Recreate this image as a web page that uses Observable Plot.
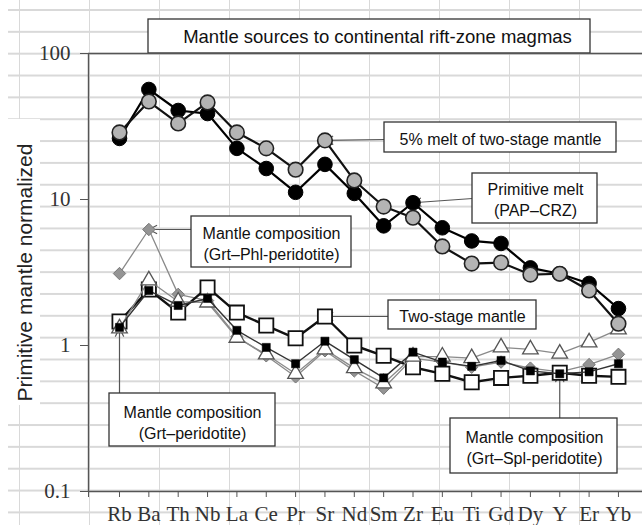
<!DOCTYPE html>
<html>
<head>
<meta charset="utf-8">
<script src="https://cdn.jsdelivr.net/npm/d3@7"></script>
<script src="https://cdn.jsdelivr.net/npm/@observablehq/plot@0.6"></script>
<style>
  html, body { margin: 0; padding: 0; }
  body {
    width: 642px; height: 525px; position: relative; overflow: hidden;
    background-color: #fff;
    background-image:
      linear-gradient(to right, #d9d9d9 1.5px, transparent 1.5px),
      linear-gradient(to bottom, #d9d9d9 1.5px, transparent 1.5px);
    background-size: 70px 21.85px;
    background-position: 19px 9px;
  }
  #ylabbg { position: absolute; left: 0; top: 119px; width: 40px; height: 286px; background: #fff; }
  #leftstrip { position: absolute; left: 0; top: 0; width: 8px; height: 525px; background: #fff; }
  #chart { position: absolute; left: 0; top: 0; }
</style>
</head>
<body>
<div id="leftstrip"></div>
<div id="ylabbg"></div>
<div id="chart"></div>
<script>
// ---- data ----
const elements = ["Rb","Ba","Th","Nb","La","Ce","Pr","Sr","Nd","Sm","Zr","Eu","Ti","Gd","Dy","Y","Er","Yb"];
const primitiveMelt = [26.2, 56.7, 40.7, 38.8, 22.4, 16.3, 11.2, 17.4, 11.0, 6.6, 9.5, 6.4, 5.2, 5.0, 3.4, 3.1, 2.66, 1.79];
const melt5 = [28.8, 46.9, 33.2, 46.2, 28.8, 22.4, 16.0, 25.4, 13.5, 8.95, 7.5, 4.77, 3.64, 3.7, 3.06, 3.1, 2.38, 1.41];
const twoStage = [1.46, 2.42, 1.68, 2.50, 1.68, 1.37, 1.12, 1.58, 1.00, 0.85, 0.71, 0.64, 0.56, 0.60, 0.62, 0.65, 0.62, 0.61];
const grtPhl = [3.11, 6.23, 2.24, 2.03, 1.15, 0.85, 0.61, 0.92, 0.67, 0.51, 0.82, 0.77, 0.71, 0.77, 0.70, 0.66, 0.74, 0.87];
const grtPer = [1.31, 2.79, 2.00, 1.97, 1.13, 0.87, 0.64, 0.94, 0.70, 0.55, 0.84, 0.84, 0.82, 0.97, 0.94, 0.88, 1.05, 1.29];
const grtSpl = [1.33, 2.38, 1.88, 2.10, 1.27, 0.97, 0.75, 1.07, 0.80, 0.60, 0.90, 0.77, 0.72, 0.79, 0.67, 0.64, 0.66, 0.75];
const yTicks = [0.1, 1, 10, 100];
const title = "Mantle sources to continental rift-zone magmas";
const yLabel = "Primitive mantle normalized";

// ---- layout (pixels) ----
const W = 642, H = 525;
const ML = 88, MR = 0, MT = 53, MB = 34;
const X0 = 119, STEP = 29.35;           // pixel position of first category, spacing
const XMIN = (ML - X0) / STEP, XMAX = (W - MR - X0) / STEP;
const YBOT = H - MB, DECADE = (YBOT - MT) / 3;
const px2x = px => (px - X0) / STEP;
const py2y = py => Math.pow(10, -1 + (YBOT - py) / DECADE);

const rows = s => elements.map((e, i) => ({i, e, v: s[i]}));
const at = (s, name) => ({i: elements.indexOf(name), v: s[elements.indexOf(name)]});

const annotations = [
  {text: "5% melt of two-stage mantle", box: [384, 616, 122, 152], tx: 500, ty: 138, from: [384, 139], to: at(melt5, "Sr"), inset: 8},
  {text: "Primitive melt\n(PAP–CRZ)", box: [472, 597, 173, 223], tx: 535, ty: 198, from: [472, 198], to: at(primitiveMelt, "Zr"), inset: 8},
  {text: "Mantle composition\n(Grt–Phl-peridotite)", box: [191, 351, 216, 267], tx: 271, ty: 242, from: [191, 229], to: at(grtPhl, "Ba"), inset: 6},
  {text: "Two-stage mantle", box: [388, 536, 300, 329], tx: 462, ty: 315, from: [388, 316], to: at(twoStage, "Sr"), inset: 8},
  {text: "Mantle composition\n(Grt–peridotite)", box: [109, 275, 393, 446], tx: 192, ty: 421, fromCat: true, fromY: 393, to: at(grtPer, "Rb"), inset: 6},
  {text: "Mantle composition\n(Grt–Spl-peridotite)", box: [450, 617, 418, 473], tx: 534, ty: 446, fromCat: true, fromY: 418, to: at(grtSpl, "Y"), inset: 5}
];

const sans = "Liberation Sans, Arial, sans-serif";
const serif = "Liberation Serif, Times New Roman, serif";
const axisColor = "#555";

const chart = Plot.plot({
  width: W, height: H,
  marginLeft: ML, marginRight: MR, marginTop: MT, marginBottom: MB,
  style: {background: "transparent", fontFamily: serif, fontSize: "21px", color: "#333", overflow: "visible"},
  x: {type: "linear", domain: [XMIN, XMAX]},
  y: {type: "log", domain: [0.1, 100]},
  marks: [
    // title box
    Plot.rect([title], {x1: px2x(148), x2: px2x(590), y1: py2y(53), y2: py2y(19), fill: "white", stroke: "#333", strokeWidth: 1.3}),
    Plot.text([title], {text: d => d, frameAnchor: "top", dx: 12, dy: -16, lineAnchor: "middle", fontFamily: sans, fontSize: 18.5, fill: "#111"}),
    // frame lines
    Plot.ruleY([0.1, 100], {stroke: axisColor, strokeWidth: 1.4}),
    Plot.ruleX([XMIN], {stroke: axisColor, strokeWidth: 1.4}),
    Plot.axisY({ticks: yTicks, tickFormat: d => String(d), tickSize: 8, tickPadding: 10, label: null, stroke: axisColor, fontSize: 21, fontFamily: serif}),
    Plot.axisX({ticks: [XMIN, ...elements.map((e, i) => i)], tickFormat: d => Number.isInteger(d) ? elements[d] : "", tickSize: 6, tickPadding: 9, label: null, stroke: axisColor, fontSize: 21, fontFamily: serif}),
    Plot.text([yLabel], {text: d => d, frameAnchor: "left", textAnchor: "middle", dx: -63, rotate: -90, fontFamily: sans, fontSize: 21, fill: "#222", lineAnchor: "middle"}),

    // arrows
    Plot.arrow(annotations, {
      x1: d => d.fromCat ? d.to.i : px2x(d.from[0]),
      y1: d => d.fromCat ? py2y(d.fromY) : py2y(d.from[1]),
      x2: d => d.to.i, y2: d => d.to.v,
      insetEnd: d => d.inset, stroke: "#555", strokeWidth: 1.2, headLength: 11, headAngle: 55
    }),

    // Grt-Phl-peridotite (gray diamonds)
    Plot.line(rows(grtPhl), {x: "i", y: "v", stroke: "#8a8a8a", strokeWidth: 1.3}),
    Plot.dot(rows(grtPhl), {x: "i", y: "v", symbol: "diamond2", r: 5.6, fill: "#949494", stroke: "#777", strokeWidth: 1}),
    // Two-stage mantle (white squares)
    Plot.line(rows(twoStage), {x: "i", y: "v", stroke: "#111", strokeWidth: 2.4}),
    Plot.dot(rows(twoStage), {x: "i", y: "v", symbol: "square", r: 8, fill: "white", stroke: "#111", strokeWidth: 1.8}),
    // Grt-peridotite (white triangles)
    Plot.line(rows(grtPer), {x: "i", y: "v", stroke: "#8a8a8a", strokeWidth: 1.3}),
    Plot.dot(rows(grtPer), {x: "i", y: "v", symbol: "triangle", r: 5.8, fill: "white", stroke: "#555", strokeWidth: 1.3}),
    // Grt-Spl-peridotite (small black squares)
    Plot.line(rows(grtSpl), {x: "i", y: "v", stroke: "#333", strokeWidth: 1.4}),
    Plot.dot(rows(grtSpl), {x: "i", y: "v", symbol: "square", r: 4.6, fill: "#000", stroke: "#000", strokeWidth: 0.5}),
    // Primitive melt (black circles)
    Plot.line(rows(primitiveMelt), {x: "i", y: "v", stroke: "#000", strokeWidth: 2.2}),
    Plot.dot(rows(primitiveMelt), {x: "i", y: "v", r: 7.3, fill: "#000", stroke: "#000", strokeWidth: 1}),
    // 5% melt (gray circles)
    Plot.line(rows(melt5), {x: "i", y: "v", stroke: "#111", strokeWidth: 2.2}),
    Plot.dot(rows(melt5), {x: "i", y: "v", r: 7.3, fill: "#b4b4b4", stroke: "#222", strokeWidth: 1.6}),

    // annotation boxes and texts
    Plot.rect(annotations, {x1: d => px2x(d.box[0]), x2: d => px2x(d.box[1]), y1: d => py2y(d.box[3]), y2: d => py2y(d.box[2]), fill: "white", stroke: "#333", strokeWidth: 1.3}),
    Plot.text(annotations, {x: d => px2x(d.tx), y: d => py2y(d.ty), text: "text", lineAnchor: "middle", lineHeight: 1.3, fontFamily: sans, fontSize: 16, fill: "#111"})
  ]
});
document.getElementById("chart").append(chart);
</script>
</body>
</html>
